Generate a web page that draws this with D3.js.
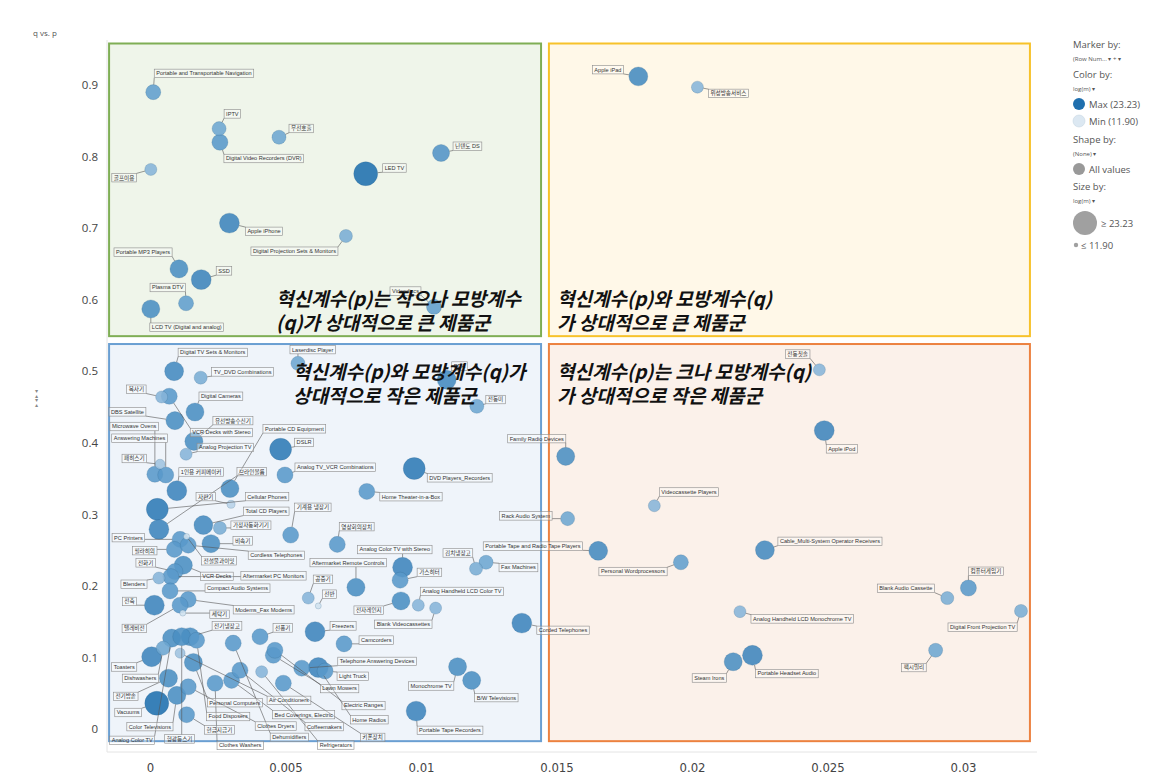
<!DOCTYPE html>
<html>
<head>
<meta charset="utf-8">
<script src="https://cdn.jsdelivr.net/npm/d3@7"></script>
<style>
body { margin: 0; background: #fff; }
svg text { font-family: "Open Sans", "Noto Sans CJK KR", sans-serif; }
</style>
</head>
<body>
<svg id="chart" width="1165" height="781"></svg>
<script>
// product names (point labels)
const names = [
  "Portable and Transportable Navigation", "IPTV", "Digital Video Recorders (DVR)", "무선호출", "닌텐도 DS",
  "LED TV", "골프이용", "Apple iPhone", "Digital Projection Sets & Monitors", "Portable MP3 Players",
  "SSD", "Plasma DTV", "LCD TV (Digital and analog)", "Videodiscs", "Apple iPad",
  "위성방송서비스", "전동칫솔", "Apple iPod", "Family Radio Devices", "Videocassette Players",
  "Rack Audio System", "Portable Tape and Radio Tape Players", "Personal Wordprocessors", "Cable_Multi-System Operator Receivers", "컴퓨터게임기",
  "Blank Audio Cassette", "Digital Front Projection TV", "Analog Handheld LCD Monochrome TV", "Steam Irons", "Portable Headset Audio",
  "팩시밀리", "Corded Telephones", "Laserdisc Player", "PDA", "전동미",
  "DVD Players_Recorders", "Home Theater-in-a-Box", "Analog TV_VCR Combinations", "DSLR", "Portable CD Equipment",
  "자판기", "패히스기", "Microwave Ovens", "Answering Machines", "DBS Satellite",
  "Digital TV Sets & Monitors", "TV_DVD Combinations", "복사기", "VCR Decks with Stereo", "Digital Cameras",
  "유선방송수신기", "Analog Projection TV", "1인용 커피메이커", "Cellular Phones", "Total CD Players",
  "가정자동화기기", "브라인볼륨", "PC Printers", "필라히의", "전화기",
  "비속기", "Cordless Telephones", "전설물과이밋", "VCR Decks", "Aftermarket PC Monitors",
  "Blenders", "Compact Audio Systems", "전축", "Modems_Fax Modems", "텔레비전",
  "세탁기", "전기냉장고", "선풍기", "Toasters", "Dishwashers",
  "전기밥솥", "Vacuums", "Color Televisions", "Analog Color TV", "형광등스기",
  "Personal Computers", "Food Disposers", "현금지급기", "Clothes Washers", "Air Conditioners",
  "Bed Coverings, Electric", "Clothes Dryers", "Coffeemakers", "Refrigerators", "키폰장치",
  "Lawn Mowers", "Electric Ranges", "Home Radios", "Light Truck", "Dehumidifiers",
  "Telephone Answering Devices", "Freezers", "Camcorders", "공중기", "선반",
  "Analog Color TV with Stereo", "영상회의장치", "기계용 냉장기", "Aftermarket Remote Controls", "가스히터",
  "전자레인지", "Analog Handheld LCD Color TV", "Blank Videocassettes", "김치냉장고", "Fax Machines",
  "Monochrome TV", "B/W Televisions", "Portable Tape Recorders"
];

// innovation coefficient p
const pVals = [
  0.00012, 0.00255, 0.00258, 0.00476, 0.01074,
  0.00796, 0.00003, 0.00293, 0.00723, 0.00107,
  0.00189, 0.00133, 0.00003, 0.01048, 0.01802,
  0.02020, 0.02470, 0.02488, 0.01534, 0.01861,
  0.01541, 0.01654, 0.01959, 0.02269, 0.03020,
  0.02942, 0.03214, 0.02177, 0.02152, 0.02223,
  0.02899, 0.01372, 0.00546, 0.01095, 0.01206,
  0.00975, 0.00800, 0.00498, 0.00482, 0.00295,
  0.00299, 0.00037, 0.00018, 0.00058, 0.00092,
  0.00089, 0.00187, 0.00043, 0.00071, 0.00166,
  0.00162, 0.00133, 0.00099, 0.00027, 0.00197,
  0.00258, 0.00033, 0.00111, 0.00090, 0.00092,
  0.00225, 0.00141, 0.00135, 0.00123, 0.00077,
  0.00033, 0.00074, 0.00016, 0.00141, 0.00111,
  0.00121, 0.00148, 0.00406, 0.00006, 0.00049,
  0.00068, 0.00025, 0.00099, 0.00080, 0.00117,
  0.00160, 0.00172, 0.00135, 0.00240, 0.00111,
  0.00301, 0.00141, 0.00332, 0.00412, 0.00492,
  0.00455, 0.00461, 0.00621, 0.00646, 0.00307,
  0.00560, 0.00609, 0.00716, 0.00584, 0.00621,
  0.00932, 0.00691, 0.00519, 0.00760, 0.00923,
  0.00926, 0.00990, 0.01054, 0.01203, 0.01240,
  0.01135, 0.01187, 0.00982
];

// imitation coefficient q
const qVals = [
  0.890, 0.839, 0.820, 0.827, 0.805,
  0.776, 0.782, 0.707, 0.689, 0.643,
  0.628, 0.595, 0.587, 0.590, 0.912,
  0.897, 0.502, 0.417, 0.381, 0.312,
  0.294, 0.249, 0.233, 0.250, 0.197,
  0.183, 0.165, 0.164, 0.094, 0.103,
  0.110, 0.148, 0.511, 0.488, 0.451,
  0.364, 0.332, 0.355, 0.391, 0.336,
  0.314, 0.370, 0.356, 0.355, 0.431,
  0.500, 0.491, 0.464, 0.465, 0.443,
  0.402, 0.384, 0.333, 0.307, 0.285,
  0.281, 0.279, 0.265, 0.251, 0.220,
  0.259, 0.257, 0.269, 0.229, 0.213,
  0.211, 0.193, 0.173, 0.181, 0.173,
  0.162, 0.129, 0.129, 0.101, 0.113,
  0.071, 0.036, 0.047, 0.127, 0.129,
  0.093, 0.124, 0.020, 0.064, 0.106,
  0.068, 0.059, 0.082, 0.080, 0.064,
  0.103, 0.110, 0.086, 0.081, 0.120,
  0.085, 0.136, 0.119, 0.183, 0.172,
  0.226, 0.258, 0.271, 0.198, 0.208,
  0.179, 0.173, 0.169, 0.224, 0.233,
  0.087, 0.068, 0.025
];

// log(m): colour and size
const logM = [
  17.9, 17.3, 18.5, 17.3, 19.1,
  23.2, 16.1, 20.8, 16.7, 19.7,
  20.8, 17.9, 19.7, 17.9, 20.2,
  16.1, 16.1, 20.8, 19.7, 16.1,
  17.3, 20.2, 17.9, 20.2, 18.5,
  16.7, 16.7, 16.1, 19.7, 20.8,
  17.3, 20.8, 17.3, 20.2, 17.3,
  22.0, 18.5, 18.5, 22.0, 19.7,
  13.7, 14.9, 18.5, 18.5, 19.7,
  20.2, 16.7, 16.1, 18.5, 19.7,
  19.7, 16.1, 20.8, 22.0, 20.2,
  16.7, 20.8, 18.5, 18.5, 18.5,
  19.7, 18.5, 12.5, 19.7, 18.5,
  16.1, 18.5, 20.8, 18.5, 18.5,
  12.5, 19.7, 18.5, 20.8, 17.3,
  19.7, 23.2, 19.7, 19.7, 19.7,
  19.7, 18.5, 18.5, 18.5, 14.9,
  18.5, 18.5, 18.5, 16.1, 18.5,
  18.5, 18.5, 20.8, 18.5, 18.5,
  18.5, 20.8, 18.5, 16.1, 12.5,
  20.8, 18.5, 18.5, 19.7, 18.5,
  19.7, 16.1, 16.1, 16.7, 17.3,
  19.7, 19.7, 20.8
];

// label box placement (px from point to box top-left)
const labelOffsets = [
  [1,-23],[5,-19],[4,12],[10,-13],[12,-11],
  [17,-10],[-39,4],[16,4],[-95,11],[-65,-21],
  [15,-13],[-36,-20],[-1,14],[-44,-20],[-46,-11],
  [11,2],[-34,-20],[2,14],[-58,-22],[5,-18],
  [-68,-7],[-115,-9],[-82,5],[13,-13],[0,-21],
  [-70,-14],[-73,12],[11,3],[-41,12],[3,14],
  [-34,13],[15,3],[-8,-18],[5,-18],[9,-11],
  [13,5],[13,1],[10,-12],[14,-11],[33,-64],
  [-35,-12],[-38,-10],[-45,-52],[-54,-41],[-66,-13],
  [4,-23],[11,-10],[-35,-12],[21,32],[4,-20],
  [19,-25],[11,-11],[2,-23],[88,-17],[40,-18],
  [11,-7],[78,-62],[-68,-6],[-42,-3],[-39,-13],
  [22,-7],[60,6],[15,20],[17,7],[70,-5],
  [-38,2],[35,-7],[-32,-8],[45,6],[-58,19],
  [27,-3],[22,-15],[13,-13],[-40,6],[-41,26],
  [-55,14],[-42,5],[-50,27],[-62,98],[-17,98],
  [14,36],[10,72],[18,11],[2,58],[87,43],
  [41,30],[67,35],[65,52],[56,69],[77,50],
  [47,29],[67,51],[32,48],[12,1],[37,90],
  [36,-11],[15,-10],[15,-8],[5,-23],[4,-16],
  [-45,-22],[2,-22],[4,-32],[-46,-29],[17,-12],
  [-47,5],[2,-18],[-61,12],[-33,-20],[13,1],
  [-49,15],[3,13],[1,15]
];

const xTicks = [0, 0.005, 0.01, 0.015, 0.02, 0.025, 0.03];
const xTickLabels = ["0", "0.005", "0.01", "0.015", "0.02", "0.025", "0.03"];
const yTicks = [0, 0.1, 0.2, 0.3, 0.4, 0.5, 0.6, 0.7, 0.8, 0.9];
const yTickLabels = ["0", "0.1", "0.2", "0.3", "0.4", "0.5", "0.6", "0.7", "0.8", "0.9"];

// quadrant boxes in data units
const quadrants = [
  { p0: -0.00151, p1: 0.01443, q0: 0.549, q1: 0.958, stroke: "#7fae55", fill: "#eff5ea",
    text: ["혁신계수(p)는 작으나 모방계수", "(q)가 상대적으로 큰 제품군"], tp: 0.00465, tq: 0.591 },
  { p0: 0.01472, p1: 0.03247, q0: 0.549, q1: 0.958, stroke: "#f7c22a", fill: "#fff8e8",
    text: ["혁신계수(p)와 모방계수(q)", "가 상대적으로 큰 제품군"], tp: 0.01502, tq: 0.591 },
  { p0: -0.00151, p1: 0.01443, q0: -0.017, q1: 0.538, stroke: "#6a9fd2", fill: "#eff4fa",
    text: ["혁신계수(p)와 모방계수(q)가", "상대적으로 작은 제품군"], tp: 0.00528, tq: 0.489 },
  { p0: 0.01472, p1: 0.03247, q0: -0.017, q1: 0.538, stroke: "#ec8240", fill: "#fbf1ea",
    text: ["혁신계수(p)는 크나 모방계수(q)", "가 상대적으로 작은 제품군"], tp: 0.01502, tq: 0.489 }
];

const svg = d3.select("#chart");

const x = d3.scaleLinear().domain([0, 0.03]).range([150, 963]);
const y = d3.scaleLinear().domain([0, 0.9]).range([729, 85]);
const r = d3.scaleLinear().domain([11.9, 23.23]).range([2.5, 12]);
const color = d3.scaleLinear().domain([11.9, 18, 23.23]).range(["#dce8f2", "#5f9dcc", "#1f6fae"]);

// faint plot frame
svg.append("line").attr("x1", 107).attr("x2", 107).attr("y1", 40).attr("y2", 752)
  .attr("stroke", "#e4e4e4");
svg.append("line").attr("x1", 107).attr("x2", 1037).attr("y1", 752).attr("y2", 752)
  .attr("stroke", "#e4e4e4");

// title
svg.append("text").attr("x", 33).attr("y", 36).attr("font-size", 8).attr("fill", "#555").text("q vs. p");

// small scroll control on the left
svg.append("text").attr("transform", "translate(35,390) rotate(90)")
  .attr("font-size", 6).attr("fill", "#888").text("▸ ◂ ▸ ◂");

// quadrant boxes
svg.append("g").selectAll("rect").data(quadrants).join("rect")
  .attr("x", d => x(d.p0)).attr("y", d => y(d.q1))
  .attr("width", d => x(d.p1) - x(d.p0)).attr("height", d => y(d.q0) - y(d.q1))
  .attr("fill", d => d.fill).attr("stroke", d => d.stroke).attr("stroke-width", 2);

// axes
const xAxis = d3.axisBottom(x).tickValues(xTicks).tickFormat((d, i) => xTickLabels[i]).tickSize(0);
svg.append("g").attr("transform", "translate(0,760)").call(xAxis)
  .call(g => g.select(".domain").remove())
  .selectAll("text").attr("font-size", 13).attr("fill", "#444")
  .style("font-family", '"Liberation Sans Narrow", "DejaVu Sans Condensed", sans-serif');

const yAxis = d3.axisLeft(y).tickValues(yTicks).tickFormat((d, i) => yTickLabels[i]).tickSize(0);
svg.append("g").attr("transform", "translate(101,0)").call(yAxis)
  .call(g => g.select(".domain").remove())
  .selectAll("text").attr("font-size", 11.5).attr("fill", "#444");

// points
const pts = names.map((n, i) => ({
  name: n, p: pVals[i], q: qVals[i], m: logM[i], off: labelOffsets[i]
}));
pts.forEach(d => { d.cx = x(d.p); d.cy = y(d.q); d.rad = r(d.m); });

const order = pts.slice().sort((a, b) => b.m - a.m);
svg.append("g").selectAll("circle").data(order).join("circle")
  .attr("cx", d => d.cx).attr("cy", d => d.cy).attr("r", d => d.rad)
  .attr("fill", d => color(d.m)).attr("fill-opacity", 0.88)
  .attr("stroke", "#2c5f85").attr("stroke-opacity", 0.35).attr("stroke-width", 0.6);

// label boxes with leader lines
const lineG = svg.append("g");
const boxG = svg.append("g");
pts.forEach(d => {
  const bx = d.cx + d.off[0], by = d.cy + d.off[1];
  const t = boxG.append("text").attr("x", bx + 2).attr("y", by + 6.2)
    .attr("font-size", 5.6).attr("fill", "#333")
    .style("font-family", '"Liberation Sans", "Noto Sans CJK KR", sans-serif')
    .text(d.name);
  const w = t.node().getComputedTextLength() + 4, h = 8.5;
  boxG.insert("rect", "text").attr("x", bx).attr("y", by).attr("width", w).attr("height", h)
    .attr("fill", "#fff").attr("fill-opacity", 0.35)
    .attr("stroke", "#8a8a8a").attr("stroke-width", 0.6);
  const nx = Math.max(bx, Math.min(d.cx, bx + w));
  const ny = Math.max(by, Math.min(d.cy, by + h));
  const dist = Math.hypot(nx - d.cx, ny - d.cy);
  if (dist > d.rad) {
    const sx = d.cx + (nx - d.cx) / dist * d.rad;
    const sy = d.cy + (ny - d.cy) / dist * d.rad;
    lineG.append("line").attr("x1", sx).attr("y1", sy).attr("x2", nx).attr("y2", ny)
      .attr("stroke", "#555").attr("stroke-width", 0.6);
  }
});

// quadrant captions
quadrants.forEach(qd => {
  qd.text.forEach((line, j) => {
    svg.append("text").attr("x", x(qd.tp)).attr("y", y(qd.tq) + j * 24)
      .attr("font-size", 19).attr("font-weight", "bold").attr("font-style", "italic")
      .attr("fill", "#111")
      .style("font-family", '"Noto Sans CJK KR", sans-serif')
      .text(line);
  });
});

// legend
const lg = svg.append("g").attr("transform", "translate(1073,0)");
const lt = (yy, s, size, fill) => lg.append("text").attr("x", 0).attr("y", yy)
  .attr("font-size", size).attr("fill", fill).text(s);
lt(48, "Marker by:", 9.5, "#555");
lt(61, "(Row Num...  ▾   +  ▾", 6, "#555");
lt(78, "Color by:", 9.5, "#555");
lt(91, "log(m)  ▾", 6, "#555");
lg.append("circle").attr("cx", 6).attr("cy", 104).attr("r", 6).attr("fill", color(23.23));
lt(108, "Max (23.23)", 9.5, "#555").attr("x", 16);
lg.append("circle").attr("cx", 6).attr("cy", 121).attr("r", 6).attr("fill", color(11.9))
  .attr("stroke", "#c7d6e3").attr("stroke-width", 0.6);
lt(125, "Min (11.90)", 9.5, "#555").attr("x", 16);
lt(143, "Shape by:", 9.5, "#555");
lt(156, "(None)  ▾", 6, "#555");
lg.append("circle").attr("cx", 6).attr("cy", 169).attr("r", 6).attr("fill", "#999");
lt(173, "All values", 9.5, "#555").attr("x", 16);
lt(190, "Size by:", 9.5, "#555");
lt(203, "log(m)  ▾", 6, "#555");
lg.append("circle").attr("cx", 12).attr("cy", 223).attr("r", r(23.23)).attr("fill", "#a0a0a0");
lt(227, "≥  23.23", 9.5, "#555").attr("x", 28);
lg.append("circle").attr("cx", 3).attr("cy", 245).attr("r", 2.2).attr("fill", "#a0a0a0");
lt(249, "≤ 11.90", 9.5, "#555").attr("x", 8);
</script>
</body>
</html>
